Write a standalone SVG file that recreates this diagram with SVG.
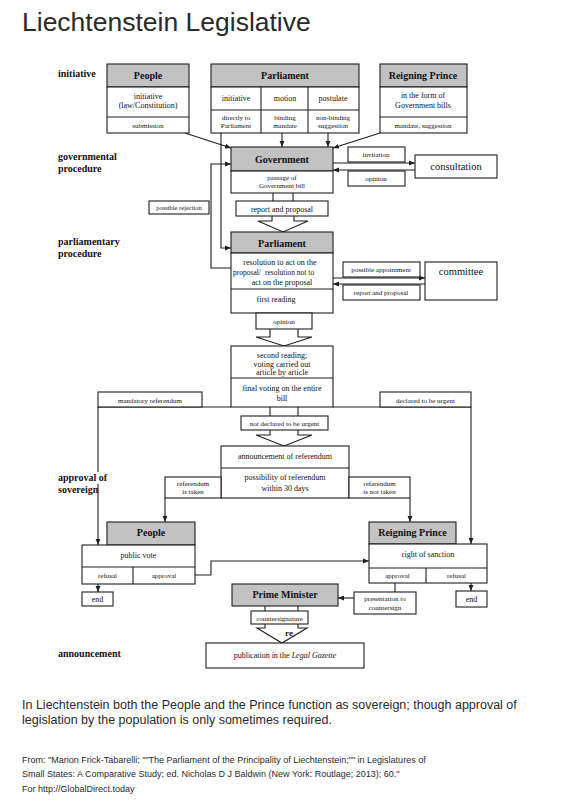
<svg xmlns="http://www.w3.org/2000/svg" width="565" height="800" viewBox="0 0 565 800">
<defs>
<marker id="ah" viewBox="0 0 10 10" refX="10" refY="5" markerWidth="6" markerHeight="6" orient="auto" markerUnits="userSpaceOnUse"><path d="M0,1 L10,5 L0,9 z" fill="#1e1e1e"/></marker>
</defs>
<style>
.b{fill:#fff;stroke:#1e1e1e;stroke-width:1.1}
.h{fill:#c2c2c2;stroke:#1e1e1e;stroke-width:1.1}
.l{fill:none;stroke:#1e1e1e;stroke-width:1.1}
.ba{fill:#fff;stroke:#1e1e1e;stroke-width:1.1}
.a{fill:none;stroke:#1e1e1e;stroke-width:1.1;marker-end:url(#ah)}
text{font-family:"Liberation Serif","Times New Roman",serif;fill:#111}
.t{font-size:8px;text-anchor:middle}
.s{font-size:7px;text-anchor:middle}
.hd{font-size:10px;font-weight:bold;text-anchor:middle}
.lab{font-size:10px;font-weight:bold}
.big{font-size:10.5px;text-anchor:middle}
.sans{font-family:"Liberation Sans",Arial,sans-serif;fill:#2a2a2a}
</style>
<rect width="565" height="800" fill="#fff"/>
<text class="sans" x="22" y="31" font-size="26.5" fill="#1a1a1a">Liechtenstein Legislative</text>

<g id="connectors">
<line class="a" x1="185" y1="133" x2="231" y2="148"/>
<line class="a" x1="380" y1="133" x2="333" y2="148"/>
<line class="a" x1="282" y1="133" x2="282" y2="147"/>
<line class="a" x1="328" y1="133" x2="328" y2="147"/>
<polyline class="a" points="221,133 221,248 231,248"/>
<polyline class="a" points="231,268 211,268 211,164 231,164"/>
<line class="a" x1="333" y1="163" x2="415" y2="163"/>
<line class="a" x1="415" y1="170" x2="333" y2="170"/>
<line class="l" x1="273" y1="193" x2="273" y2="201"/>
<line class="l" x1="293" y1="193" x2="293" y2="201"/>
<path class="ba" d="M272,216 V221 H258 L283,232 L308,221 H294 V216"/>
<line class="a" x1="333" y1="278" x2="425" y2="278"/>
<line class="a" x1="425" y1="284" x2="333" y2="284"/>
<path class="ba" d="M270,329 V337 H256 L284,346 L312,337 H298 V329"/>
<line class="l" x1="98" y1="407" x2="231" y2="407"/>
<line class="a" x1="98" y1="407" x2="98" y2="545"/>
<line class="l" x1="333" y1="407" x2="471" y2="407"/>
<line class="a" x1="471" y1="407" x2="471" y2="544"/>
<line class="l" x1="270" y1="407" x2="270" y2="416"/>
<line class="l" x1="298" y1="407" x2="298" y2="416"/>
<path class="ba" d="M270,430 V435 H256 L284,446 L312,435 H298 V430"/>
<line class="a" x1="165" y1="498" x2="165" y2="522"/>
<line class="a" x1="410" y1="498" x2="410" y2="522"/>
<line class="a" x1="98" y1="584" x2="98" y2="592"/>
<polyline class="a" points="195,575 211,575 211,561 369,561"/>
<line class="a" x1="471" y1="583" x2="471" y2="591"/>
<line class="l" x1="395" y1="583" x2="395" y2="592"/>
<line class="a" x1="354" y1="598" x2="338" y2="598"/>
<line class="l" x1="265" y1="606" x2="265" y2="611"/>
<line class="l" x1="298" y1="606" x2="298" y2="611"/>
<path class="ba" d="M265,624 V628 H257 L282,643 L307,628 H298 V624"/>
<text x="289" y="636" font-size="9" font-weight="bold" text-anchor="middle">re</text>
</g>

<g id="labels">
<text class="lab" x="58" y="77">initiative</text>
<text class="lab" x="58" y="160">governmental</text>
<text class="lab" x="58" y="172">procedure</text>
<text class="lab" x="58" y="245">parliamentary</text>
<text class="lab" x="58" y="257">procedure</text>
<rect x="56" y="472" width="54" height="12" fill="#fff"/>
<text class="lab" x="58" y="481">approval of</text>
<text class="lab" x="58" y="493">sovereign</text>
<text class="lab" x="58" y="657">announcement</text>
</g>

<g id="people-top">
<rect class="h" x="107" y="64" width="82" height="23"/>
<rect class="b" x="107" y="87" width="82" height="46"/>
<line class="l" x1="107" y1="117" x2="189" y2="117"/>
<text class="hd" x="148" y="79">People</text>
<text class="t" x="148" y="99">initiative</text>
<text class="t" x="148" y="108">(law/Constitution)</text>
<text class="s" x="148" y="128">submission</text>
</g>

<g id="parliament-top">
<rect class="h" x="211" y="64" width="148" height="23"/>
<rect class="b" x="211" y="87" width="148" height="46"/>
<line class="l" x1="211" y1="110" x2="359" y2="110"/>
<line class="l" x1="261" y1="87" x2="261" y2="133"/>
<line class="l" x1="308" y1="87" x2="308" y2="133"/>
<text class="hd" x="285" y="79">Parliament</text>
<text class="t" x="236" y="101">initiative</text>
<text class="t" x="285" y="101">motion</text>
<text class="t" x="333" y="101">postulate</text>
<text class="s" x="236" y="120">directly to</text>
<text class="s" x="236" y="128">Parliament</text>
<text class="s" x="285" y="120">binding</text>
<text class="s" x="285" y="128">mandate</text>
<text class="s" x="333" y="120">non-binding</text>
<text class="s" x="333" y="128">suggestion</text>
</g>

<g id="prince-top">
<rect class="h" x="380" y="64" width="87" height="23"/>
<rect class="b" x="380" y="87" width="87" height="46"/>
<line class="l" x1="380" y1="117" x2="467" y2="117"/>
<text class="hd" x="423" y="79">Reigning Prince</text>
<text class="t" x="423" y="98">in the form of</text>
<text class="t" x="423" y="108">Government bills</text>
<text class="s" x="423" y="128">mandate, suggestion</text>
</g>

<g id="government">
<rect class="h" x="231" y="147" width="102" height="24"/>
<rect class="b" x="231" y="171" width="102" height="22"/>
<text class="hd" x="282" y="163">Government</text>
<text class="s" x="282" y="180">passage of</text>
<text class="s" x="282" y="188">Government bill</text>
</g>

<g id="invitation">
<rect class="b" x="348" y="147" width="57" height="15"/>
<text class="s" x="376" y="157">invitation</text>
</g>
<g id="opinion-gov">
<rect class="b" x="348" y="171" width="57" height="15"/>
<text class="s" x="376" y="181">opinion</text>
</g>
<g id="consultation">
<rect class="b" x="415" y="155" width="82" height="23"/>
<text class="big" x="456" y="170">consultation</text>
</g>

<g id="possible-rejection">
<rect class="b" x="149" y="201" width="60" height="13"/>
<text x="179" y="210" font-size="6.5" text-anchor="middle">possible rejection</text>
</g>

<g id="report-proposal-1">
<rect class="b" x="236" y="201" width="92" height="15"/>
<text class="t" x="282" y="211.5">report and proposal</text>
</g>

<g id="parliament">
<rect class="h" x="231" y="232" width="102" height="21"/>
<rect class="b" x="231" y="253" width="102" height="60"/>
<line class="l" x1="231" y1="289" x2="333" y2="289"/>
<text class="hd" x="282" y="247">Parliament</text>
<text class="t" x="280" y="265">resolution to act on the</text>
<text x="233" y="275" font-size="7.5">proposal/</text>
<text x="265" y="274.5" font-size="7.5">resolution not to</text>
<text class="t" x="282" y="285">act on the proposal</text>
<text class="t" x="276" y="302">first  reading</text>
</g>

<g id="opinion-parl">
<rect class="b" x="256" y="313" width="56" height="16"/>
<text class="s" x="284" y="324">opinion</text>
</g>

<g id="possible-appointment">
<rect class="b" x="343" y="262" width="77" height="15"/>
<text class="s" x="381" y="272">possible appointment</text>
</g>
<g id="report-proposal-2">
<rect class="b" x="343" y="285" width="77" height="15"/>
<text class="s" x="381" y="295">report and proposal</text>
</g>
<g id="committee">
<rect class="b" x="425" y="262" width="72" height="38"/>
<text class="big" x="461" y="275">committee</text>
</g>

<g id="second-reading">
<rect class="b" x="231" y="346" width="102" height="61"/>
<line class="l" x1="231" y1="378" x2="333" y2="378"/>
<text class="t" x="282" y="358">second reading;</text>
<text class="t" x="282" y="366.5">voting carried out</text>
<text class="t" x="282" y="375">article by article</text>
<text class="t" x="282" y="391">final voting  on the entire</text>
<text class="t" x="282" y="400.5">bill</text>
</g>

<g id="mandatory-referendum">
<rect class="b" x="98" y="392" width="104" height="15"/>
<text class="s" x="150" y="402.5">mandatory referendum</text>
</g>
<g id="declared-urgent">
<rect class="b" x="380" y="392" width="91" height="15"/>
<text class="s" x="425.5" y="402.5">declared to be urgent</text>
</g>
<g id="not-declared-urgent">
<rect class="b" x="241" y="416" width="87" height="14"/>
<text class="s" x="284.5" y="425.5">not declared to be urgent</text>
</g>

<g id="announcement-referendum">
<rect class="b" x="221" y="446" width="128" height="52"/>
<line class="l" x1="221" y1="468" x2="349" y2="468"/>
<text class="t" x="285" y="458.5">announcement of referendum</text>
<text class="t" x="285" y="479.5">possibility of referendum</text>
<text class="t" x="285" y="490.5">within 30 days</text>
</g>
<g id="referendum-taken">
<rect class="b" x="165" y="477" width="56" height="21"/>
<text class="s" x="193" y="485.5">referendum</text>
<text class="s" x="193" y="494">is taken</text>
</g>
<g id="referendum-not-taken">
<rect class="b" x="349" y="477" width="61" height="21"/>
<text class="s" x="379.5" y="485.5">referendum</text>
<text class="s" x="379.5" y="494">is not taken</text>
</g>

<g id="people-bottom">
<rect class="h" x="107" y="522" width="88" height="23"/>
<rect class="b" x="82" y="545" width="113" height="39"/>
<line class="l" x1="82" y1="567" x2="195" y2="567"/>
<line class="l" x1="133" y1="567" x2="133" y2="584"/>
<text class="hd" x="151" y="536">People</text>
<text class="t" x="138.5" y="557.5">public vote</text>
<text class="s" x="107.5" y="578">refusal</text>
<text class="s" x="164" y="578">approval</text>
</g>
<g id="end-left">
<rect class="b" x="82" y="592" width="31" height="14"/>
<text class="t" x="97.5" y="602">end</text>
</g>

<g id="prince-bottom">
<rect class="h" x="369" y="522" width="87" height="22"/>
<rect class="b" x="369" y="544" width="118" height="39"/>
<line class="l" x1="369" y1="568" x2="487" y2="568"/>
<line class="l" x1="426" y1="568" x2="426" y2="583"/>
<text class="hd" x="412.5" y="536">Reigning Prince</text>
<text class="t" x="428" y="556.5">right of sanction</text>
<text class="s" x="397.5" y="578">approval</text>
<text class="s" x="456.5" y="578">refusal</text>
</g>
<g id="end-right">
<rect class="b" x="456" y="591" width="31" height="16"/>
<text class="t" x="471.5" y="602">end</text>
</g>

<g id="presentation">
<rect class="b" x="354" y="592" width="62" height="22"/>
<text class="s" x="385" y="601">presentation to</text>
<text class="s" x="385" y="609.5">countersign</text>
</g>

<g id="prime-minister">
<rect class="h" x="232" y="584" width="106" height="22"/>
<text class="hd" x="285" y="598">Prime Minister</text>
</g>
<g id="countersignature">
<rect class="b" x="251" y="611" width="57" height="13"/>
<text class="s" x="279.5" y="620.5">countersignature</text>
</g>

<g id="publication">
<rect class="b" x="206" y="643" width="158" height="25"/>
<text class="t" x="285" y="658">publication in the <tspan font-style="italic">Legal Gazette</tspan></text>
</g>

<g id="caption">
<text class="sans" x="22" y="709" font-size="12.5">In Liechtenstein both the People and the Prince function as sovereign; though approval of</text>
<text class="sans" x="22" y="724" font-size="12.5">legislation by the population is only sometimes required.</text>
<text class="sans" x="22" y="763" font-size="9">From: "Marion Frick-Tabarelli; ""The Parliament of the Principality of Liechtenstein;"" in Legislatures of</text>
<text class="sans" x="22" y="777" font-size="9">Small States: A Comparative Study; ed. Nicholas D J Baldwin (New York: Routlage; 2013); 60."</text>
<text class="sans" x="22" y="792" font-size="9">For http://GlobalDirect.today</text>
</g>
</svg>
